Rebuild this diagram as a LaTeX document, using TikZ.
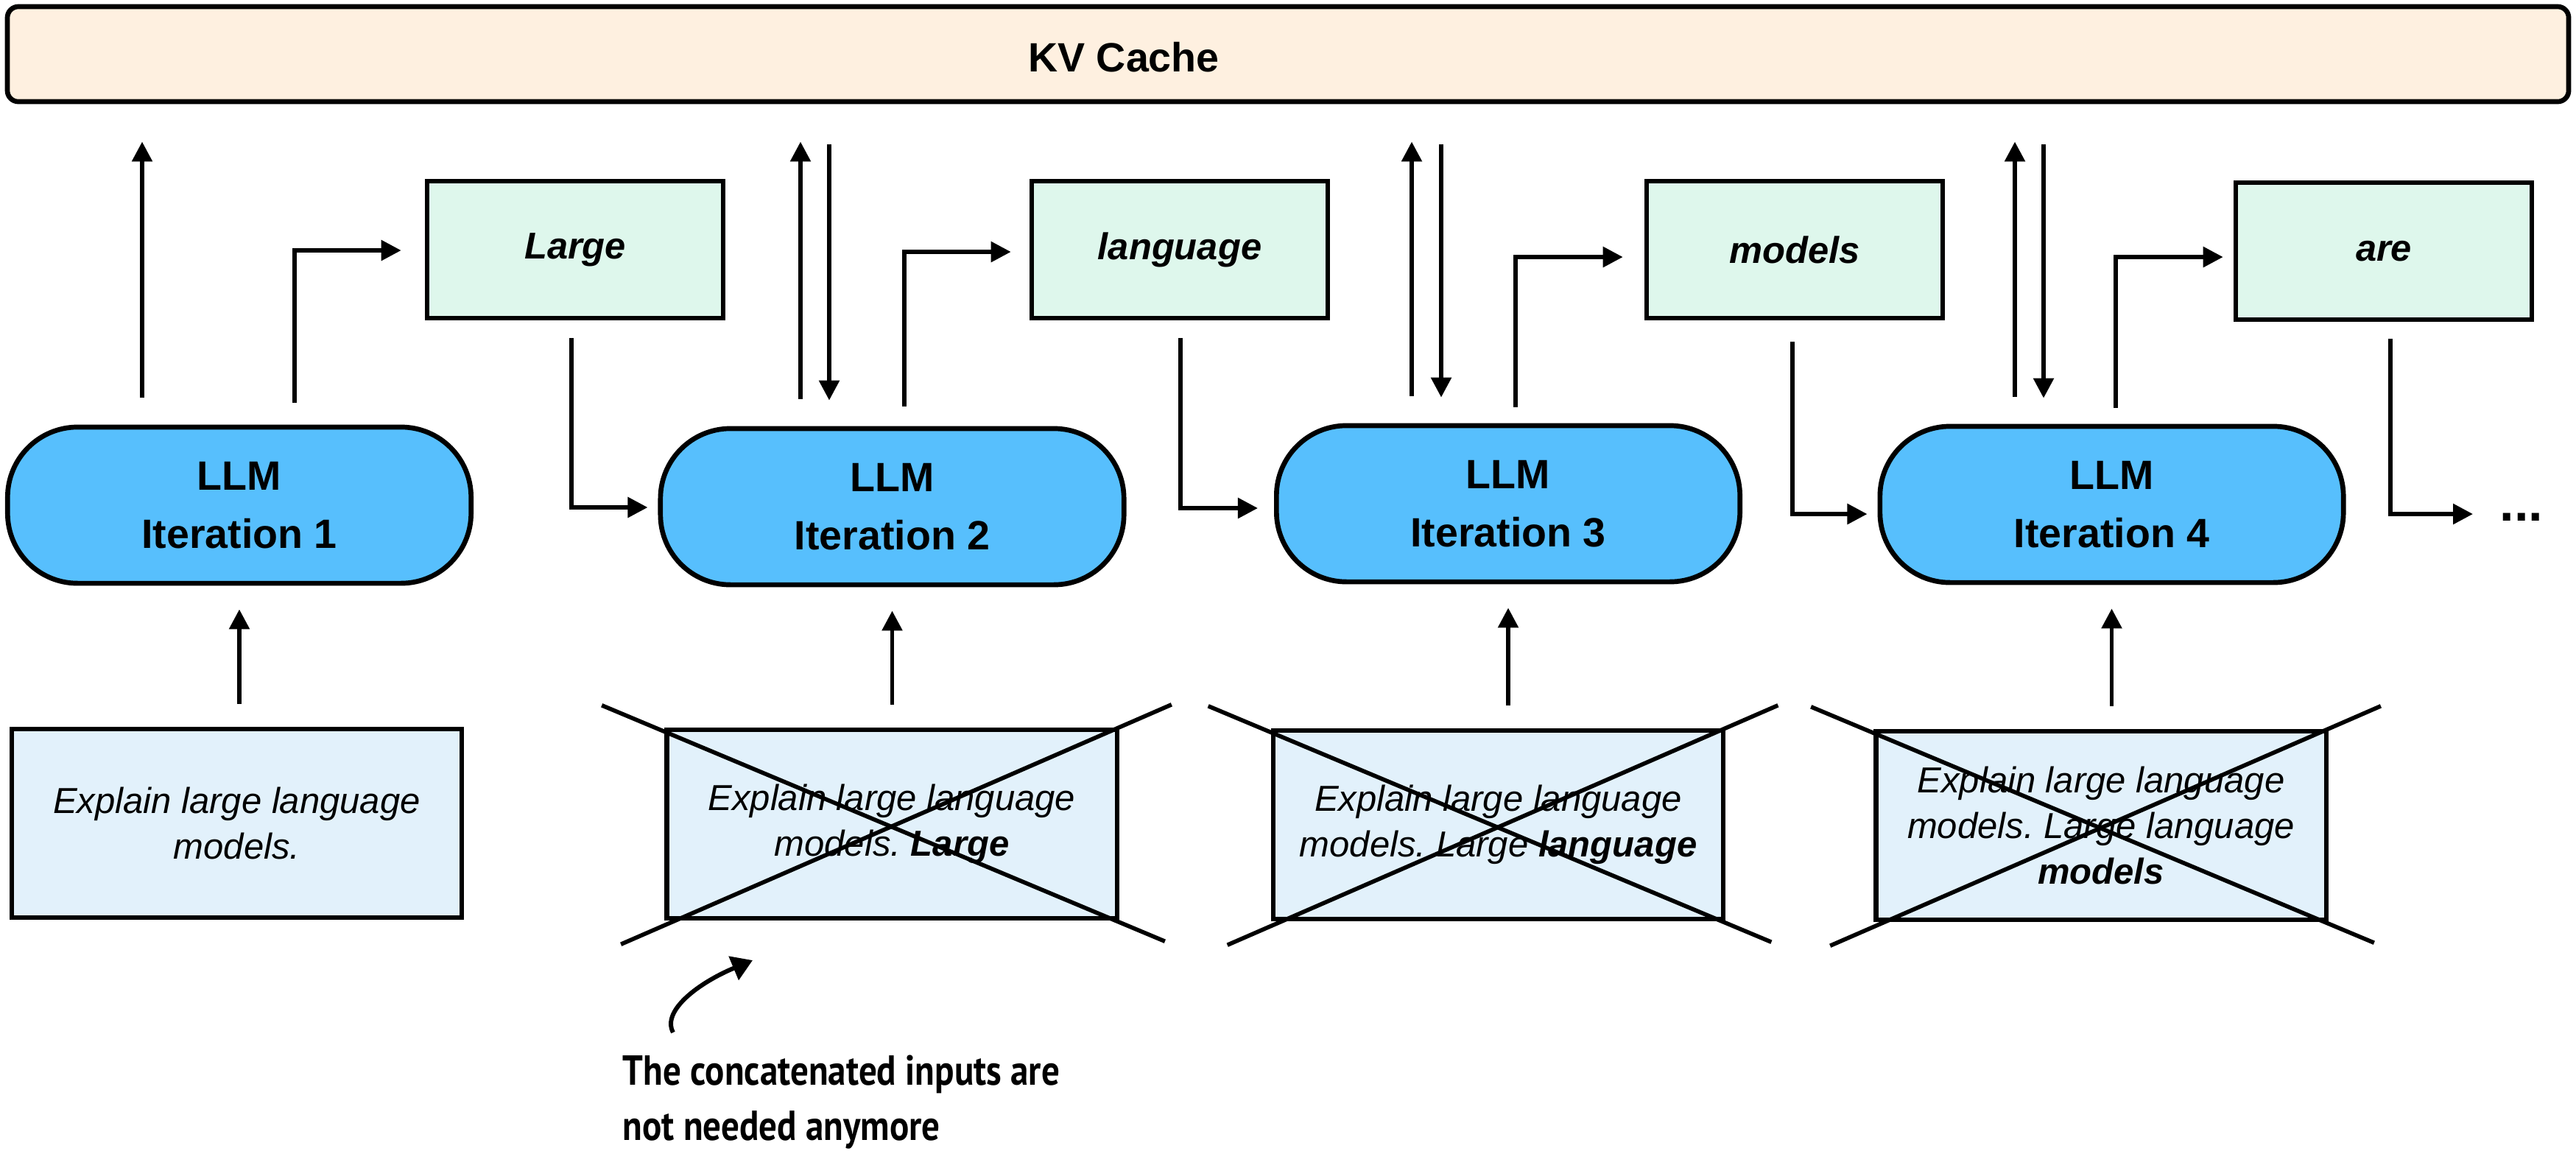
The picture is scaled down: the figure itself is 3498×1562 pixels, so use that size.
\documentclass[tikz,border=0pt]{standalone}
\usepackage{fontspec}
\setmainfont{Liberation Sans}
\newfontfamily\notefont[FakeStretch=0.86]{PT Sans}
\usetikzlibrary{arrows.meta,calc}
\frenchspacing

\definecolor{kvfill}{HTML}{FEF0E0}
\definecolor{llmfill}{HTML}{57BFFD}
\definecolor{tokfill}{HTML}{DEF7EC}
\definecolor{inpfill}{HTML}{E2F1FB}

\tikzset{
  kvbox/.style={draw=black, line width=1.9pt, fill=kvfill, rounded corners=0.15cm,
    minimum width=34.76cm, minimum height=1.29cm, inner sep=0pt},
  llm/.style={draw=black, line width=1.9pt, fill=llmfill, rounded corners=0.95cm,
    minimum width=6.29cm, minimum height=2.12cm, align=center, inner sep=0pt,
    font=\fontsize{15.8pt}{22.5pt}\selectfont\bfseries},
  tok/.style={draw=black, line width=1.8pt, fill=tokfill,
    minimum width=4.02cm, minimum height=1.86cm, inner sep=0pt,
    font=\fontsize{14.4pt}{17pt}\selectfont\bfseries\itshape},
  inp/.style={draw=black, line width=1.8pt, fill=inpfill,
    minimum width=6.11cm, minimum height=2.56cm, align=center, inner sep=0pt,
    font=\fontsize{13.94pt}{17.64pt}\selectfont\itshape},
  conn/.style={line width=1.6pt, -{Triangle[length=0.27cm, width=0.27cm]}},
  crossline/.style={line width=1.6pt},
}

\begin{document}
\begin{tikzpicture}[x=0.01cm, y=-0.01cm]
\useasboundingbox (0,0) rectangle (3498,1562);

% cache shared by all iterations
\node[kvbox] (kv) at (1749,73.5) {};
\node[font=\fontsize{15.8pt}{18pt}\selectfont\bfseries] (kvt) at (1526,78) {KV Cache};

% model iterations
\node[llm] (p1) at (325,686)    {LLM\\Iteration 1};
\node[llm] (p2) at (1211.5,688) {LLM\\Iteration 2};
\node[llm] (p3) at (2048,684)   {LLM\\Iteration 3};
\node[llm] (p4) at (2867.5,685) {LLM\\Iteration 4};

% generated tokens
\node[tok] (g1) at (781,339)  {Large};
\node[tok] (g2) at (1602,339) {language};
\node[tok] (g3) at (2437,339) {models};
\node[tok] (g4) at (3237,341) {are};

% inputs
\node[inp] (b1) at (321.5,1118) {Explain large language\\models.};
\node[inp] (b2) at (1211,1119)  {Explain large language\\models. \textbf{Large}};
\node[inp] (b3) at (2034.5,1120) {Explain large language\\models. Large \textbf{language}};
\node[inp] (b4) at (2853,1121)  {Explain large language\\models. Large language\\\textbf{models}};

\node[font=\fontsize{20pt}{22pt}\selectfont\bfseries, anchor=base west, inner sep=0pt] (dots) at (3394,707) {...};

% crossed-out inputs
\foreach \b in {b2,b3,b4}{
  \draw[crossline] ([shift={(-85,-30)}]\b.north west) -- ([shift={(62,28)}]\b.south east);
  \draw[crossline] ([shift={(71,-31)}]\b.north east) -- ([shift={(-59,32)}]\b.south west);
}

% writes to and reads from the cache
\coordinate (u1) at (193,0);
\coordinate (u2) at (1087,0);
\coordinate (u3) at (1917,0);
\coordinate (u4) at (2736,0);
\coordinate (v2) at (1126,0);
\coordinate (v3) at (1957,0);
\coordinate (v4) at (2775,0);
\foreach \p/\u in {p1/u1,p2/u2,p3/u3,p4/u4}{
  \draw[conn, shorten <=0.37cm, shorten >=0.51cm] (\p.north -| \u) -- (kv.south -| \u);
}
\foreach \p/\v in {p2/v2,p3/v3,p4/v4}{
  \draw[conn, shorten <=0.55cm, shorten >=0.35cm] (kv.south -| \v) -- (\p.north -| \v);
}

% each iteration emits a token
\coordinate (o1) at (400,340);
\coordinate (o2) at (1228,342);
\coordinate (o3) at (2058,349);
\coordinate (o4) at (2873,349);
\draw[conn, shorten <=0.30cm, shorten >=0.32cm] (p1.north -| o1) |- (g1.west |- o1);
\draw[conn, shorten <=0.27cm, shorten >=0.25cm] (p2.north -| o2) |- (g2.west |- o2);
\draw[conn, shorten <=0.22cm, shorten >=0.29cm] (p3.north -| o3) |- (g3.west |- o3);
\draw[conn, shorten <=0.22cm, shorten >=0.14cm] (p4.north -| o4) |- (g4.west |- o4);

% each token feeds the next iteration
\coordinate (d1) at (776,689);
\coordinate (d2) at (1603,690);
\coordinate (d3) at (2434,698);
\coordinate (d4) at (3246,698);
\draw[conn, shorten <=0.24cm, shorten >=0.14cm] (g1.south -| d1) |- (p2.west |- d1);
\draw[conn, shorten <=0.24cm, shorten >=0.22cm] (g2.south -| d2) |- (p3.west |- d2);
\draw[conn, shorten <=0.29cm, shorten >=0.14cm] (g3.south -| d3) |- (p4.west |- d3);
\draw[conn, shorten <=0.23cm, shorten >=0.36cm] (g4.south -| d4) |- (dots.west |- d4);

% prompts into the model
\foreach \b/\p in {b1/p1,b2/p2,b3/p3,b4/p4}{
  \draw[conn, shorten <=0.31cm, shorten >=0.32cm] (\b.north -| \p.south) -- (\p.south);
}

% note (base anchor sits on the last line)
\node[font=\fontsize{16.2pt}{21.3pt}\selectfont\notefont\bfseries,
      anchor=base west, align=left, inner sep=0pt] (note) at (845,1548)
  {The concatenated inputs are\\not needed anymore};
\coordinate (cs) at (914,1402);
\coordinate (ce) at (1022,1304);
\draw[line width=1.7pt, -{Triangle[length=0.28cm, width=0.34cm]}]
  (cs) .. controls (898,1372) and (950,1334) .. (ce);
\end{tikzpicture}
\end{document}
